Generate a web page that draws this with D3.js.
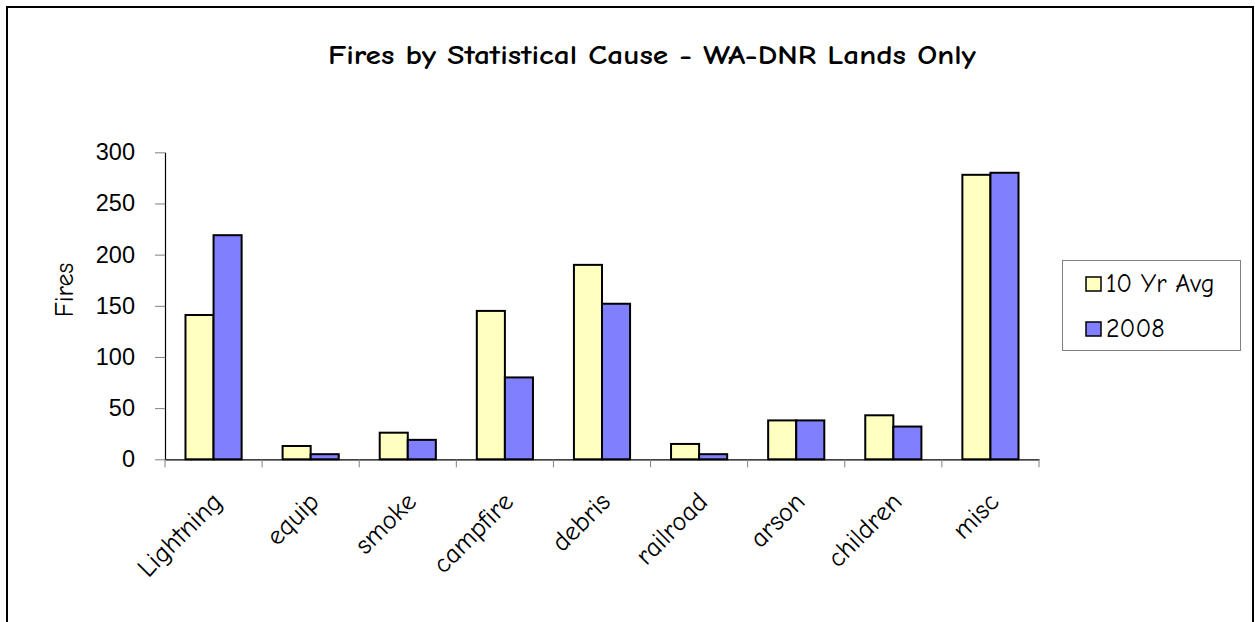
<!DOCTYPE html>
<html>
<head>
<meta charset="utf-8">
<script src="https://cdn.jsdelivr.net/npm/d3@7"></script>
<style>
  html, body { margin: 0; padding: 0; background: #fff; }
  svg { display: block; }
</style>
</head>
<body>
<svg id="chart" width="1255" height="622"></svg>
<script>
const categories = ["Lightning", "equip", "smoke", "campfire", "debris", "railroad", "arson", "children", "misc"];
const seriesNames = ["10 Yr Avg", "2008"];
const avgValues = [141, 13, 26, 145, 190, 15, 38, 43, 278];
const values2008 = [219, 5, 19, 80, 152, 5, 38, 32, 280];
const yTicks = [0, 50, 100, 150, 200, 250, 300];
const seriesColors = ["#FFFFC0", "#8080FF"];

(function () {
const comic = "'Comic Sans MS', 'Comic Neue', 'DejaVu Sans', sans-serif";
const arial = "Arial, 'Liberation Sans', sans-serif";

const svg = d3.select("#chart");

// outer frame
svg.append("rect").attr("x", 7).attr("y", 7).attr("width", 1246).attr("height", 622)
  .attr("fill", "#fff").attr("stroke", "#000").attr("stroke-width", 2);

const pLeft = 165, pRight = 1039, pTop = 152.3, pBottom = 459.3;

const x0 = d3.scaleBand().domain(categories).range([pLeft, pRight]).padding(0);
const x1 = d3.scaleBand().domain(seriesNames).range([0, x0.bandwidth()]).paddingInner(0).paddingOuter(0.73);
const y = d3.scaleLinear().domain([0, 300]).range([pBottom, pTop]);

// title
svg.append("text").attr("x", 652).attr("y", 64).attr("text-anchor", "middle")
  .attr("font-family", comic).attr("font-weight", "bold").attr("font-size", 26)
  .attr("textLength", 648).attr("lengthAdjust", "spacingAndGlyphs")
  .text("Fires by Statistical Cause - WA-DNR Lands Only");

// bars
const data = categories.map((c, i) => ({ cat: c, vals: [avgValues[i], values2008[i]] }));
const g = svg.append("g");
data.forEach(d => {
  d.vals.forEach((v, j) => {
    g.append("rect")
      .attr("x", x0(d.cat) + x1(seriesNames[j]))
      .attr("y", y(v))
      .attr("width", x1.bandwidth())
      .attr("height", y(0) - y(v))
      .attr("fill", seriesColors[j])
      .attr("stroke", "#000")
      .attr("stroke-width", 2);
  });
});

// y axis
const yAxis = svg.append("g").attr("transform", `translate(${pLeft},0)`)
  .call(d3.axisLeft(y).tickValues(yTicks).tickSize(10).tickPadding(20).tickSizeOuter(0));
yAxis.select(".domain").attr("stroke", "#000").attr("stroke-width", 1.2);
yAxis.selectAll(".tick line").attr("stroke", "#808080");
yAxis.selectAll(".tick text").attr("font-family", arial).attr("font-size", 23.5).attr("fill", "#000");

// x axis
const xAxis = svg.append("g").attr("transform", `translate(0,${pBottom})`)
  .call(d3.axisBottom(x0).tickSize(0).tickFormat(""));
xAxis.select(".domain").attr("stroke", "#000").attr("stroke-width", 1.2);
const boundaries = categories.map(c => x0(c)).concat([pRight]);
xAxis.selectAll(".bt").data(boundaries).enter().append("line")
  .attr("x1", d => d).attr("x2", d => d).attr("y1", 0).attr("y2", 8)
  .attr("stroke", "#808080");

// x labels rotated
svg.append("g").selectAll("text").data(categories).enter().append("text")
  .attr("transform", d => `translate(${x0(d) + x0.bandwidth() / 2 + 10},${pBottom + 44}) rotate(-45)`)
  .attr("text-anchor", "end")
  .attr("font-family", comic).attr("font-size", 27)
  .text(d => d);

// y axis title
svg.append("text").attr("transform", "translate(73,290) rotate(-90)")
  .attr("text-anchor", "middle").attr("font-family", comic).attr("font-size", 26)
  .text("Fires");

// legend
const lg = svg.append("g");
lg.append("rect").attr("x", 1062.5).attr("y", 260.5).attr("width", 178).attr("height", 90)
  .attr("fill", "#fff").attr("stroke", "#808080").attr("stroke-width", 1);
seriesNames.forEach((s, i) => {
  const yy = 277 + i * 45;
  lg.append("rect").attr("x", 1086).attr("y", yy).attr("width", 15).attr("height", 14)
    .attr("fill", seriesColors[i]).attr("stroke", "#000").attr("stroke-width", 1.5);
  lg.append("text").attr("x", 1106).attr("y", yy + 15)
    .attr("font-family", comic).attr("font-size", 26).text(s);
});
})();
</script>
</body>
</html>
